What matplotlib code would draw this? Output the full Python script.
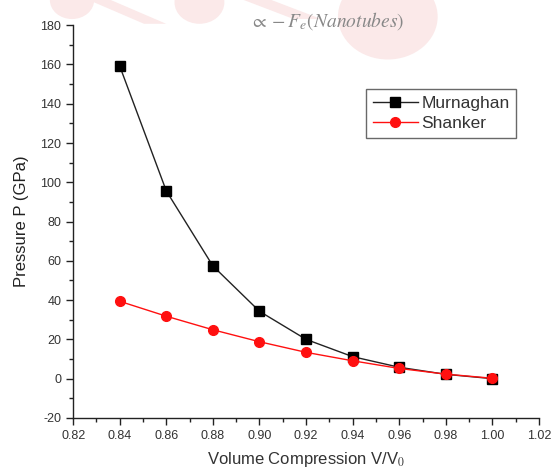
import matplotlib
matplotlib.use("Agg")
import matplotlib.pyplot as plt
from matplotlib.patches import Circle, Polygon
from matplotlib.ticker import MultipleLocator, FormatStrFormatter

plt.rcParams['font.family'] = ['Liberation Sans', 'DejaVu Sans']
plt.rcParams['mathtext.fontset'] = 'stix'
plt.rcParams['axes.unicode_minus'] = False

volume = [0.84, 0.86, 0.88, 0.90, 0.92, 0.94, 0.96, 0.98, 1.00]
murnaghan = [159.2, 95.6, 57.4, 34.3, 20.0, 11.2, 5.8, 2.2, 0.0]
shanker = [39.4, 31.8, 24.9, 18.8, 13.4, 9.1, 5.2, 2.3, 0.2]

fig = plt.figure(figsize=(5.54, 4.76), dpi=100)

# faded decorative background shapes (slide backdrop)
pink = '#fbe9e9'
for (cx, cy, r) in [(0.13, 1.0, 0.04), (0.36, 0.995, 0.045), (0.70, 0.965, 0.09)]:
    fig.patches.append(Circle((cx, cy), r, transform=fig.transFigure,
                              facecolor=pink, edgecolor='none', zorder=-5,
                              figure=fig))
fig.patches.append(Polygon([(0.16, 1.0), (0.20, 1.0), (0.30, 0.95), (0.26, 0.95)],
                           closed=True, transform=fig.transFigure,
                           facecolor=pink, edgecolor='none', zorder=-5, figure=fig))
fig.patches.append(Polygon([(0.44, 1.0), (0.49, 1.0), (0.58, 0.96), (0.53, 0.96)],
                           closed=True, transform=fig.transFigure,
                           facecolor=pink, edgecolor='none', zorder=-5, figure=fig))

ax = fig.add_axes([0.132, 0.122, 0.841, 0.825])
ax.patch.set_alpha(0)
ax.set_zorder(2)

ax.plot(volume, murnaghan, color='#222222', lw=1.0, marker='s', ms=7,
        mfc='black', mec='black', label='Murnaghan', zorder=3)
ax.plot(volume, shanker, color='#ff1010', lw=1.0, marker='o', ms=7,
        mfc='#ff1010', mec='#ff1010', label='Shanker', zorder=4)

ax.set_xlim(0.82, 1.02)
ax.set_ylim(-20, 180)
ax.xaxis.set_major_locator(MultipleLocator(0.02))
ax.xaxis.set_minor_locator(MultipleLocator(0.01))
ax.yaxis.set_major_locator(MultipleLocator(20))
ax.yaxis.set_minor_locator(MultipleLocator(10))
ax.xaxis.set_major_formatter(FormatStrFormatter('%.2f'))

for s in ['top', 'right']:
    ax.spines[s].set_visible(False)
for s in ['left', 'bottom']:
    ax.spines[s].set_linewidth(1.0)
    ax.spines[s].set_color('#222222')

ax.tick_params(which='major', direction='out', length=5, width=1,
               labelsize=9, colors='#222222', labelcolor='#333333')
ax.tick_params(which='minor', direction='out', length=3, width=1,
               colors='#222222')

ax.set_xlabel('Volume Compression V/V$_0$', fontsize=12, color='#333333',
              labelpad=6)
ax.set_ylabel('Pressure P (GPa)', fontsize=12, color='#222222', labelpad=8)

leg = ax.legend(loc='upper right', bbox_to_anchor=(0.97, 0.86), fontsize=12.5,
                frameon=True, fancybox=False, handlelength=2.6,
                borderpad=0.4, labelspacing=0.3, handletextpad=0.2)
leg.get_frame().set_edgecolor('#444444')
leg.get_frame().set_linewidth(1.0)
for t in leg.get_texts():
    t.set_color('#333333')

fig.text(0.59, 0.955, r'$\propto -F_e(Nanotubes)$', fontsize=14,
         color='#888888', ha='center', va='center', zorder=1)

fig.savefig('out.png', dpi=100)
